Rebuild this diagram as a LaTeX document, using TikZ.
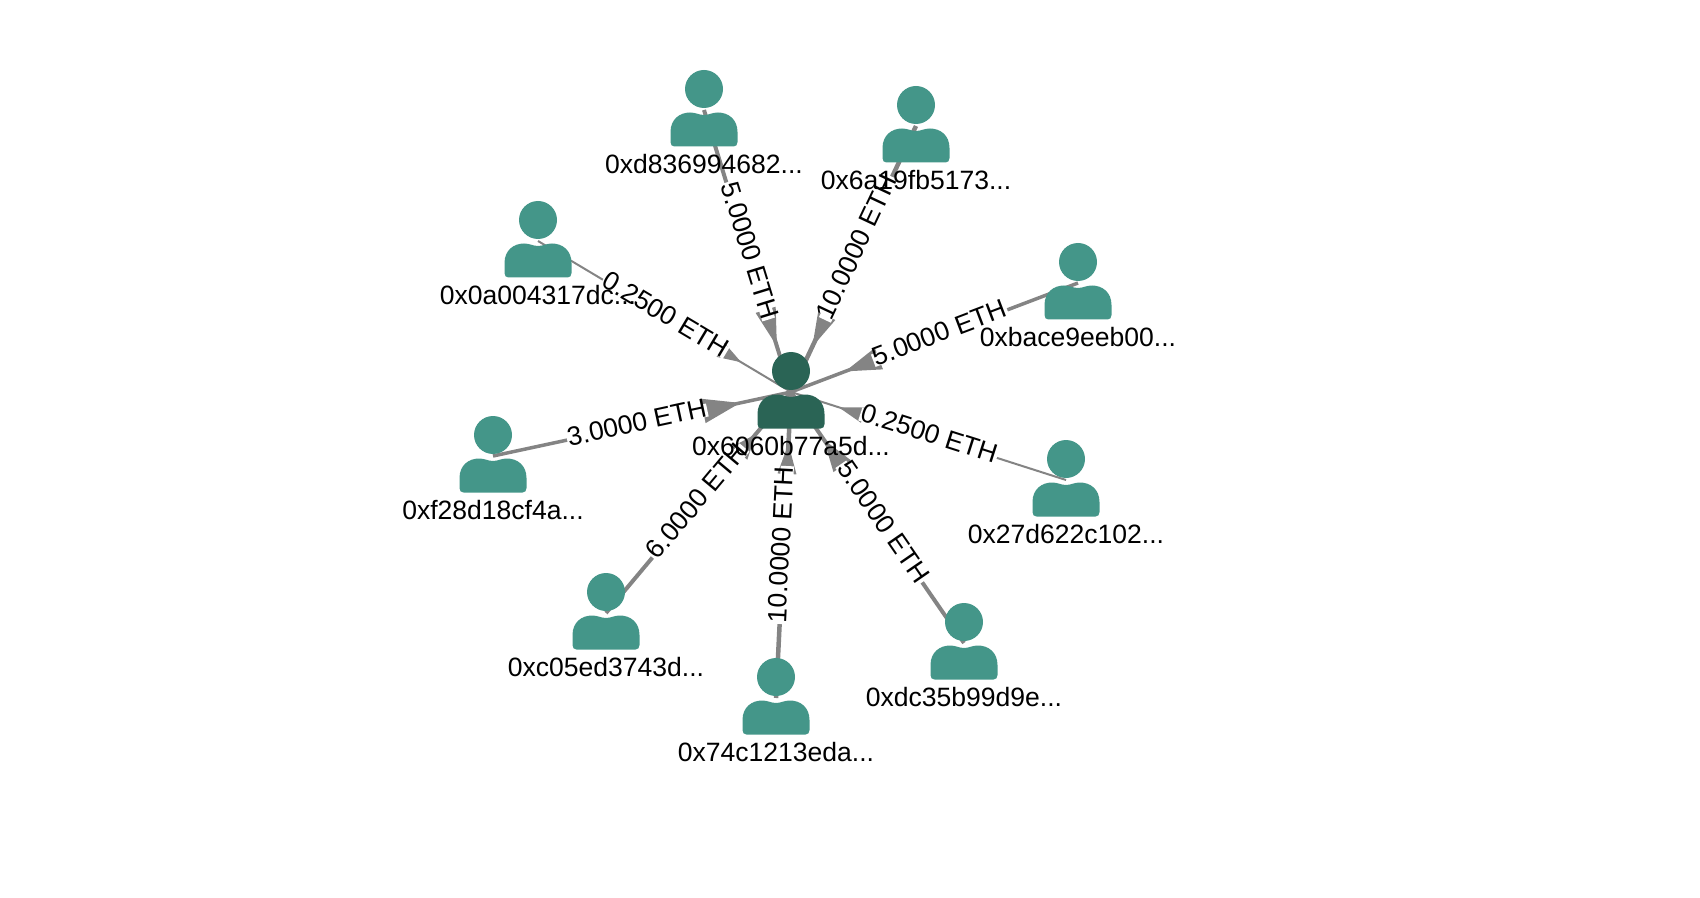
\documentclass[tikz,border=0pt]{standalone}
\usepackage{fontspec}
\setmainfont{Liberation Sans}
\usetikzlibrary{backgrounds,decorations.markings}
\definecolor{usercolor}{RGB}{68,150,137}
\definecolor{hubcolor}{RGB}{42,100,85}
\definecolor{edgecolor}{RGB}{132,132,132}

\begin{document}
\begin{tikzpicture}[
    x=0.02cm, y=-0.02cm,
    user/.style={rectangle, minimum width=68*0.02cm, minimum height=84*0.02cm, inner sep=0pt, path picture={
        \begin{scope}[shift={(path picture bounding box.center)}]
            \fill[#1] (0,-21) circle (19);
            \fill[#1] (-33.5,32) -- (-33.5,22) .. controls (-33.5,9) and (-24,2.5) .. (-14,2.5)
                .. controls (-8,2.5) and (-5,5) .. (0,5) .. controls (5,5) and (8,2.5) .. (14,2.5)
                .. controls (24,2.5) and (33.5,9) .. (33.5,22) -- (33.5,32)
                .. controls (33.5,35) and (32,36.5) .. (29.5,36.5) -- (-29.5,36.5)
                .. controls (-32,36.5) and (-33.5,35) .. (-33.5,32) -- cycle;
        \end{scope}}},
    idtext/.style={font=\fontsize{15.1}{18}\selectfont, inner sep=0pt, yshift=-0.04cm},
    amount/.style={font=\fontsize{15.1}{18}\selectfont, text=black, fill=white, sloped, inner xsep=0.5pt, inner ysep=0pt, text height=0.74em, text depth=0.01em},
    % width / distance of the tip from the hub / head length / head width
    flow/.style n args={4}{edgecolor, line width=#1*0.02cm, postaction={decorate}, decoration={markings,
        mark=at position -#2*0.02cm with {\fill[edgecolor] (0,0) -- (-#3,#4/2) -- (-#3,-#4/2) -- cycle;}}}
]

% Hub
\node[user=hubcolor, label={[idtext]below:0x6060b77a5d...}] (hub) at (791,392) {};

% Senders
\node[user=usercolor, label={[idtext]below:0xd836994682...}] (d836) at (704,110) {};
\node[user=usercolor, label={[idtext]below:0x6a19fb5173...}] (a19f) at (916,126) {};
\node[user=usercolor, label={[idtext]below:0x0a004317dc...}] (a004) at (538,241) {};
\node[user=usercolor, label={[idtext]below:0xbace9eeb00...}] (bace) at (1078,283) {};
\node[user=usercolor, label={[idtext]below:0xf28d18cf4a...}] (f28d) at (493,456) {};
\node[user=usercolor, label={[idtext]below:0x27d622c102...}] (d622) at (1066,480) {};
\node[user=usercolor, label={[idtext]below:0xc05ed3743d...}] (c05e) at (606,613) {};
\node[user=usercolor, label={[idtext]below:0x74c1213eda...}] (c121) at (776,698) {};
\node[user=usercolor, label={[idtext]below:0xdc35b99d9e...}] (dc35) at (964,643) {};

% Transfers
\begin{scope}[on background layer]
\draw[flow={4}{48}{38}{21}] (d836.center) -- node[amount, pos=0.5] {5.0000 ETH} (hub.center);
\draw[flow={4.5}{50}{34}{19}] (a19f.center) -- node[amount, pos=0.46] {10.0000 ETH} (hub.center);
\draw[flow={2}{58}{24}{16}] (a004.center) -- node[amount, pos=0.5] {0.2500 ETH} (hub.center);
\draw[flow={3.5}{58}{36}{23}] (bace.center) -- node[amount, pos=0.48] {5.0000 ETH} (hub.center);
\draw[flow={3.5}{52}{38}{25}] (f28d.center) -- node[amount, pos=0.484] {3.0000 ETH} (hub.center);
\draw[flow={2}{50}{26}{16}] (d622.center) -- node[amount, pos=0.5] {0.2500 ETH} (hub.center);
\draw[flow={4}{55}{25}{20}] (c05e.center) -- node[amount, pos=0.5] {6.0000 ETH} (hub.center);
\draw[flow={4.5}{52}{30}{19}] (c121.center) -- node[amount, pos=0.5] {10.0000 ETH} (hub.center);
\draw[flow={4}{58}{32}{21}] (dc35.center) -- node[amount, pos=0.477] {5.0000 ETH} (hub.center);
\end{scope}

\useasboundingbox (0,0) rectangle (1700,898);

\end{tikzpicture}
\end{document}
